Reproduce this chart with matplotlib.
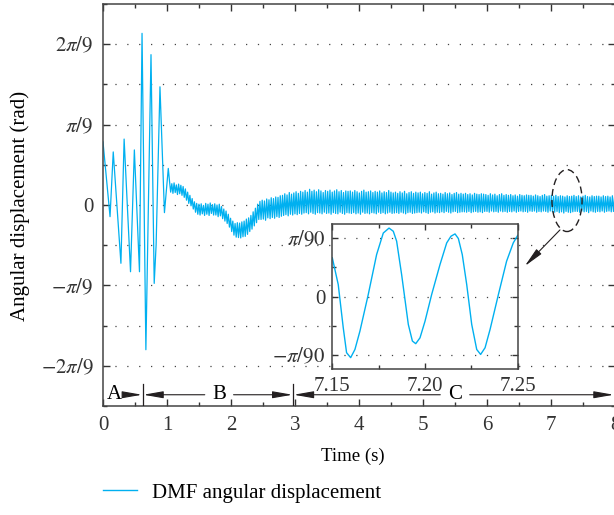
import numpy as np
import matplotlib
matplotlib.use('Agg')
import matplotlib.pyplot as plt
from matplotlib.patches import Ellipse
from matplotlib.lines import Line2D

plt.rcParams['font.family'] = 'Liberation Serif'
plt.rcParams['mathtext.fontset'] = 'stix'
plt.rcParams['font.size'] = 15

# angles are kept in degrees: pi/9 rad = 20 deg, pi/90 rad = 2 deg
# start-up transient, extrema
start_t = [0.00, 0.11, 0.16, 0.28, 0.33, 0.43, 0.49, 0.57, 0.61, 0.67,
           0.75, 0.80, 0.83, 0.89, 0.96, 1.02]
start_deg = [15.7, -2.9, 13.2, -14.5, 16.4, -16.6, 13.7, -16.6, 42.7, -36.0,
             37.4, -19.5, -9.9, 29.4, -1.9, 9.1]

# afterwards: one high / low pair per oscillation cycle
cycle_t0 = 1.04
cycle_period = 0.0353
steady_hi = [
    5.8, 5.3, 5.5, 5.0, 5.2, 4.9, 4.6, 4.0, 3.2, 2.4,
    1.6, 0.8, 0.4, 0.2, 0.3, -0.1, 0.4, 0.2, 0.5, 0.1,
    0.3, 0.0, 0.2, -0.4, -1.0, -1.5, -2.3, -3.3, -4.0, -4.6,
    -4.4, -4.5, -4.2, -4.0, -3.5, -3.2, -2.6, -1.7, -0.8, 0.2,
    0.9, 1.2, 1.0, 1.5, 1.3, 1.8, 1.6, 2.0, 1.9, 2.3,
    2.4, 2.8, 2.5, 3.1, 2.7, 3.0, 3.3, 2.9, 3.4, 3.2,
    3.6, 3.2, 3.9, 3.4, 3.7, 3.3, 3.8, 3.5, 3.1, 3.6,
    3.4, 3.7, 3.2, 3.5, 3.8, 3.3, 3.6, 3.1, 3.5, 3.4,
    3.5, 3.2, 3.6, 3.3, 3.0, 3.4, 3.7, 3.2, 3.3, 3.5,
    3.1, 3.4, 3.2, 3.5, 3.0, 3.3, 3.1, 3.6, 3.2, 3.0,
    3.2, 2.9, 3.3, 3.0, 3.4, 2.8, 3.1, 3.3, 2.9, 3.2,
    3.0, 3.2, 2.8, 3.1, 2.9, 3.3, 2.7, 3.0, 3.2, 2.8,
    2.9, 2.7, 3.1, 2.8, 3.0, 2.6, 2.9, 3.1, 2.7, 2.9,
    2.7, 2.9, 2.6, 2.8, 2.5, 2.9, 2.7, 2.6, 2.8, 2.7,
    2.6, 2.4, 2.8, 2.5, 2.7, 2.3, 2.6, 2.8, 2.4, 2.6,
    2.4, 2.6, 2.3, 2.5, 2.2, 2.6, 2.4, 2.3, 2.5, 2.4,
    2.4, 2.2, 2.5, 2.3, 2.1, 2.4, 2.6, 2.2, 2.3, 2.4,
    2.2, 2.4, 2.1, 2.3, 2.2, 2.0, 2.3, 2.1, 2.2, 2.4,
    2.1, 2.3, 2.0, 2.2, 2.4, 2.1, 2.0, 2.3, 2.1, 2.2,
    2.2, 2.0, 2.3, 2.1, 2.2, 2.0, 2.3, 2.1, 2.2, 2.0,
]
steady_lo = [
    3.2, 2.9, 3.1, 2.6, 2.8, 2.4, 1.9, 1.2, 0.4, -0.2,
    -1.0, -1.8, -2.3, -2.5, -2.2, -2.6, -2.3, -2.6, -2.1, -2.5,
    -2.5, -2.9, -2.7, -3.4, -4.0, -4.6, -5.5, -6.6, -7.5, -8.0,
    -8.1, -8.2, -7.9, -7.8, -7.3, -6.6, -6.0, -5.2, -4.4, -3.6,
    -3.6, -3.5, -3.8, -3.2, -3.4, -3.1, -3.3, -2.9, -3.1, -2.8,
    -2.6, -2.4, -2.7, -2.3, -2.5, -2.2, -2.4, -2.1, -2.3, -2.0,
    -1.9, -2.2, -1.8, -2.1, -2.3, -1.9, -2.0, -2.2, -1.8, -2.1,
    -2.0, -2.3, -1.9, -2.1, -2.2, -1.8, -2.1, -2.3, -1.9, -2.0,
    -2.1, -1.9, -2.2, -2.0, -2.3, -1.8, -2.1, -2.0, -2.2, -1.9,
    -2.0, -2.2, -1.8, -2.1, -1.9, -2.2, -2.0, -1.8, -2.1, -2.0,
    -1.9, -2.1, -1.8, -2.0, -2.2, -1.9, -1.8, -2.1, -2.0, -1.9,
    -1.8, -2.0, -1.7, -1.9, -2.1, -1.8, -1.7, -2.0, -1.8, -1.9,
    -1.7, -1.9, -1.6, -1.8, -2.0, -1.7, -1.6, -1.9, -1.8, -1.7,
    -1.7, -1.8, -1.6, -1.9, -1.7, -1.6, -1.8, -1.7, -1.9, -1.6,
    -1.6, -1.8, -1.5, -1.7, -1.6, -1.8, -1.5, -1.7, -1.6, -1.8,
    -1.6, -1.7, -1.5, -1.8, -1.6, -1.5, -1.7, -1.6, -1.8, -1.5,
    -1.6, -1.5, -1.8, -1.6, -1.7, -1.5, -1.6, -1.8, -1.5, -1.7,
    -1.8, -1.6, -1.9, -1.7, -2.0, -1.6, -1.8, -1.9, -1.7, -1.6,
    -1.6, -1.8, -1.5, -1.7, -1.6, -1.9, -1.5, -1.7, -1.8, -1.6,
    -1.7, -1.5, -1.8, -1.6, -1.5, -1.7, -1.6, -1.8, -1.5, -1.7,
]

# zoomed window 7.15 - 7.25 s
inset_t = [7.1500, 7.1532, 7.1559, 7.1577, 7.1599, 7.1622, 7.1649, 7.1694,
           7.1739, 7.1775, 7.1806, 7.1829, 7.1847, 7.1874, 7.1910, 7.1932,
           7.1950, 7.1973, 7.2000, 7.2036, 7.2081, 7.2117, 7.2140, 7.2162,
           7.2180, 7.2201, 7.2225, 7.2252, 7.2279, 7.2300, 7.2324, 7.2351,
           7.2396, 7.2440, 7.2476, 7.2500]
inset_deg = [1.33, 0.41, -1.07, -1.93, -2.10, -1.82, -1.19, 0.07,
             1.44, 2.18, 2.35, 2.24, 1.90, 0.75, -0.96, -1.53,
             -1.62, -1.42, -0.85, 0.07, 1.10, 1.84, 2.07, 2.15,
             1.99, 1.44, 0.41, -0.96, -1.82, -1.99, -1.76, -1.13,
             0.07, 1.21, 1.84, 2.10]

y_ticks = [-40, -20, 0, 20, 40]
y_labels = [r'$-2\pi/9$', r'$-\pi/9$', '0', r'$\pi/9$', r'$2\pi/9$']
inset_y_ticks = [-2, 0, 2]
inset_y_labels = [r'$-\pi/90$', '0', r'$\pi/90$']
inset_x_ticks = [7.15, 7.20, 7.25]
inset_x_labels = ['7.15', '7.20', '7.25']

blue = '#00B0F0'
ink = '#231f20'

steady_t = cycle_t0 + np.arange(2 * len(steady_hi)) * cycle_period / 2
steady_deg = np.column_stack([steady_hi, steady_lo]).ravel()
t_all = np.concatenate([start_t, steady_t])
y_all = np.concatenate([start_deg, steady_deg])

fig = plt.figure(figsize=(6.14, 5.15), dpi=100)
ax = fig.add_axes([103 / 614, 109 / 515, 512 / 614, 402 / 515])

for v in range(-40, 41, 10):
    ax.axhline(v, color='#444444', lw=0.9, ls=(0, (1, 8.5)), zorder=0)

ax.plot(t_all, y_all, color=blue, lw=0.9, zorder=2)

ax.set_xlim(0, 8)
ax.set_ylim(-50, 50)
ax.set_xticks(range(9))
ax.set_xticks(np.arange(0.5, 8, 1), minor=True)
ax.set_yticks(y_ticks)
ax.set_yticklabels(y_labels)
ax.set_yticks([-50, -30, -10, 10, 30, 50], minor=True)
ax.tick_params(which='both', direction='in', top=True, right=True, colors='#333333')
ax.tick_params(which='major', length=5, width=1, pad=7)
ax.tick_params(which='minor', length=3, width=1)
for s in ax.spines.values():
    s.set_color('#444444')
    s.set_linewidth(1.1)

fig.text(353 / 614, 1 - 456 / 515, 'Time (s)', ha='center', va='center',
         fontsize=13.5)
fig.text(20 / 614, 1 - 206 / 515, 'Angular displacement (rad)', rotation=90,
         ha='center', va='center')

# stage markers A / B / C
y_bar = -47.2
for xs in [0.62, 2.97]:
    ax.plot([xs, xs], [-44.5, -50], color=ink, lw=0.9, zorder=3)
arr = dict(arrowstyle='-|>,head_length=0.8,head_width=0.14', color=ink, lw=0.8,
           shrinkA=0, shrinkB=0)
ax.text(0.17, y_bar, 'A', ha='center', va='center')
ax.annotate('', xy=(0.61, y_bar), xytext=(0.37, y_bar), arrowprops=arr)
ax.text(1.81, y_bar, 'B', ha='center', va='center')
ax.annotate('', xy=(0.63, y_bar), xytext=(1.59, y_bar), arrowprops=arr)
ax.annotate('', xy=(2.96, y_bar), xytext=(2.04, y_bar), arrowprops=arr)
ax.text(5.5, y_bar, 'C', ha='center', va='center')
ax.annotate('', xy=(2.98, y_bar), xytext=(5.27, y_bar), arrowprops=arr)
ax.annotate('', xy=(7.98, y_bar), xytext=(5.73, y_bar), arrowprops=arr,
            annotation_clip=False)

# highlight of the zoomed region
ax.add_patch(Ellipse((7.25, 1.1), 0.47, 15.4, fill=False, ls=(0, (5, 3)),
                     lw=1.0, color=ink, zorder=4))
ax.annotate('', xy=(6.59, -15.2), xytext=(7.14, -6.2), arrowprops=arr)

ins = fig.add_axes([332.3 / 614, 146 / 515, 185.4 / 614, 145 / 515])
for v in inset_y_ticks:
    ins.axhline(v, color='#444444', lw=0.9, ls=(0, (1, 8.5)), zorder=0)
ins.plot(inset_t, inset_deg, color=blue, lw=1.0)
ins.set_xlim(7.15, 7.25)
ins.set_ylim(-2.49, 2.49)
ins.set_xticks(inset_x_ticks)
ins.set_xticklabels(inset_x_labels)
ins.set_xticks([7.175, 7.225], minor=True)
ins.set_yticks(inset_y_ticks)
ins.set_yticklabels(inset_y_labels)
ins.set_yticks([-1, 1], minor=True)
ins.tick_params(which='both', direction='in', top=True, right=True, colors='#333333')
ins.tick_params(which='major', length=4, width=1)
ins.tick_params(axis='x', which='major', pad=6)
ins.tick_params(axis='y', which='major', pad=5)
ins.tick_params(which='minor', length=3, width=1)
for s in ins.spines.values():
    s.set_color('#444444')
    s.set_linewidth(1.1)

handle = Line2D([], [], color=blue, lw=1.0)
fig.legend([handle], ['DMF angular displacement'], loc='center left',
           bbox_to_anchor=(103 / 614, 1 - 493 / 515), frameon=False,
           borderpad=0, borderaxespad=0, handlelength=1.63, handletextpad=0.72)

fig.savefig('out.png', dpi=100)
